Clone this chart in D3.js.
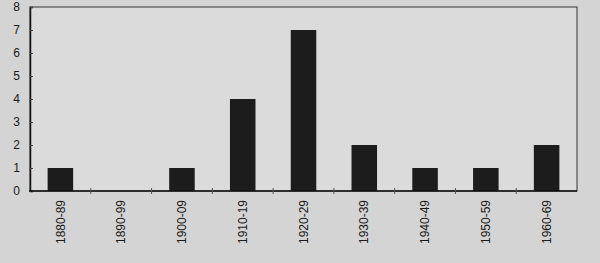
<!DOCTYPE html>
<html>
<head>
<meta charset="utf-8">
<script src="https://cdn.jsdelivr.net/npm/d3@7"></script>
<style>
  body { margin: 0; background: #d4d4d4; }
  svg { display: block; }
  text { font-family: "Liberation Sans", Arial, sans-serif; fill: #1a1a1a; }
</style>
</head>
<body>
<svg id="chart"></svg>
<script>
var decades = ["1880-89", "1890-99", "1900-09", "1910-19", "1920-29", "1930-39", "1940-49", "1950-59", "1960-69"];
var counts = [1, 0, 1, 4, 7, 2, 1, 1, 2];
var yTicks = [0, 1, 2, 3, 4, 5, 6, 7, 8];

var width = 600,
    height = 263;

var margin = {top: 7, right: 23, bottom: 72, left: 30};
var innerW = width - margin.left - margin.right,
    innerH = height - margin.top - margin.bottom;

var chart = d3.select("#chart")
    .attr("width", width)
    .attr("height", height);

chart.append("rect")
    .attr("width", width)
    .attr("height", height)
    .attr("fill", "#d4d4d4");

var g = chart.append("g")
    .attr("transform", "translate(" + margin.left + "," + margin.top + ")");

var x = d3.scaleBand()
    .domain(decades)
    .range([0, innerW])
    .paddingInner(0.58)
    .paddingOuter(0.29);

var y = d3.scaleLinear()
    .domain([0, 8])
    .range([innerH, 0]);

// plot frame
g.append("rect")
    .attr("width", innerW)
    .attr("height", innerH)
    .attr("fill", "#dbdbdb")
    .attr("stroke", "#333")
    .attr("stroke-width", 1);

g.append("g")
    .selectAll("rect")
    .data(counts)
    .enter().append("rect")
    .attr("x", function(d, i) { return x(decades[i]); })
    .attr("y", function(d) { return y(d); })
    .attr("width", x.bandwidth())
    .attr("height", function(d) { return innerH - y(d); })
    .attr("fill", "#1c1c1c");

// y axis
var yAxis = g.append("g")
    .call(d3.axisLeft(y).tickValues(yTicks).tickSize(-3).tickPadding(10));
yAxis.select(".domain").attr("stroke", "#111").attr("stroke-width", 1.5);
yAxis.selectAll(".tick line").attr("stroke", "#444");
yAxis.selectAll("text").style("font-size", "12px").attr("fill", "#1a1a1a");

// x axis: ticks at band boundaries
var gap = (x.step() - x.bandwidth()) / 2;
var xAxis = g.append("g")
    .attr("transform", "translate(0," + innerH + ")");
xAxis.append("line")
    .attr("x1", -1).attr("x2", innerW)
    .attr("stroke", "#111").attr("stroke-width", 1.5);
xAxis.selectAll(".sep")
    .data(decades.slice(1))
    .enter().append("line")
    .attr("class", "sep")
    .attr("x1", function(d) { return x(d) - gap; })
    .attr("x2", function(d) { return x(d) - gap; })
    .attr("y1", -3).attr("y2", 3)
    .attr("stroke", "#555");

xAxis.selectAll(".lbl")
    .data(decades)
    .enter().append("text")
    .attr("class", "lbl")
    .attr("transform", function(d) {
        return "translate(" + (x(d) + x.bandwidth() / 2) + ",9) rotate(-90)";
    })
    .attr("text-anchor", "end")
    .attr("dy", "0.35em")
    .style("font-size", "12px")
    .text(function(d) { return d; });
</script>
</body>
</html>
